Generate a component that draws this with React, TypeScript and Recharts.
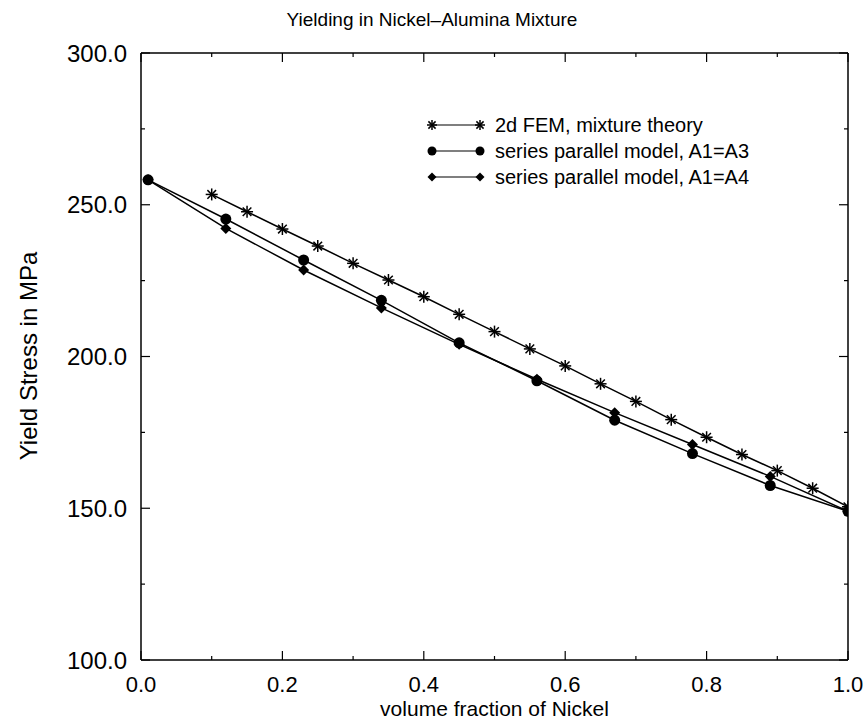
import React from "react";
import { LineChart, Line, XAxis, YAxis } from "recharts";

// FEM / mixture theory (stars)
const femX = [0.1, 0.15, 0.2, 0.25, 0.3, 0.35, 0.4, 0.45, 0.5, 0.55, 0.6, 0.65, 0.7, 0.75, 0.8, 0.85, 0.9, 0.95, 1.0];
const femY = [253.4, 247.7, 242.0, 236.4, 230.7, 225.2, 219.7, 213.9, 208.2, 202.5, 196.9, 191.0, 185.2, 179.2, 173.4, 167.7, 162.4, 156.6, 150.5];

// series parallel model points
const spX = [0.01, 0.12, 0.23, 0.34, 0.45, 0.56, 0.67, 0.78, 0.89, 1.0];
const spA3 = [258.2, 245.3, 231.8, 218.5, 204.5, 192.0, 179.0, 168.0, 157.5, 149.0];
const spA4 = [258.2, 242.2, 228.5, 216.0, 204.0, 192.5, 181.5, 171.0, 160.5, 149.0];

const xTicks = [0, 0.1, 0.2, 0.3, 0.4, 0.5, 0.6, 0.7, 0.8, 0.9, 1.0];
const yTicks = [100, 125, 150, 175, 200, 225, 250, 275, 300];

const seriesNames = ["2d FEM, mixture theory", "series parallel model, A1=A3", "series parallel model, A1=A4"];

const femData = femX.map((x, i) => ({ x, y: femY[i] }));
const a3Data = spX.map((x, i) => ({ x, y: spA3[i] }));
const a4Data = spX.map((x, i) => ({ x, y: spA4[i] }));

const FONT = "'Liberation Sans', Arial, Helvetica, sans-serif";
const W = 866;
const H = 719;
// axes are 1px thick, so plot box is 141..848 x 53..660
const margin = { top: 52, right: 17, bottom: 58, left: 140 };

const Star = ({ cx, cy, r = 6 }: any) => {
  const d = r * 0.72;
  return (
    <g stroke="#000" strokeWidth={1.5}>
      <line x1={cx - r} y1={cy} x2={cx + r} y2={cy} />
      <line x1={cx} y1={cy - r} x2={cx} y2={cy + r} />
      <line x1={cx - d} y1={cy - d} x2={cx + d} y2={cy + d} />
      <line x1={cx - d} y1={cy + d} x2={cx + d} y2={cy - d} />
    </g>
  );
};
const Dot = ({ cx, cy, r = 5.5 }: any) => <circle cx={cx} cy={cy} r={r} fill="#000" />;
const Diamond = ({ cx, cy, r = 5.5 }: any) => (
  <path d={`M${cx},${cy - r}L${cx + r},${cy}L${cx},${cy + r}L${cx - r},${cy}Z`} fill="#000" />
);

const isMajorX = (v: number) => Math.round(v * 10) % 2 === 0;
const isMajorY = (v: number) => Math.round(v) % 50 === 0;

const BottomTick = ({ x, y, payload }: any) => {
  const major = isMajorX(payload.value);
  return (
    <g>
      <line x1={x} x2={x} y1={y} y2={y - (major ? 9 : 4)} stroke="#000" strokeWidth={1.2} />
      {major && (
        <text x={x} y={y + 24} textAnchor="middle" dominantBaseline="central" fontSize={22} fontFamily={FONT} fill="#000">
          {payload.value.toFixed(1)}
        </text>
      )}
    </g>
  );
};
const TopTick = ({ x, y, payload }: any) => (
  <line x1={x} x2={x} y1={y} y2={y + (isMajorX(payload.value) ? 9 : 4)} stroke="#000" strokeWidth={1.2} />
);
const LeftTick = ({ x, y, payload }: any) => {
  const major = isMajorY(payload.value);
  return (
    <g>
      <line x1={x} x2={x + (major ? 9 : 4)} y1={y} y2={y} stroke="#000" strokeWidth={1.2} />
      {major && (
        <text x={x - 14} y={y} textAnchor="end" dominantBaseline="central" fontSize={24} fontFamily={FONT} fill="#000">
          {payload.value.toFixed(1)}
        </text>
      )}
    </g>
  );
};
const RightTick = ({ x, y, payload }: any) => (
  <line x1={x} x2={x - (isMajorY(payload.value) ? 9 : 4)} y1={y} y2={y} stroke="#000" strokeWidth={1.2} />
);

const LegendBox = () => {
  const marks = [Star, Dot, Diamond];
  return (
    <svg width={360} height={80}>
      {seriesNames.map((name, i) => {
        const M = marks[i];
        const cy = 13 + i * 26;
        return (
          <g key={name}>
            <line x1={7} x2={55} y1={cy} y2={cy} stroke="#000" strokeWidth={1.2} />
            <M cx={7} cy={cy} r={i === 0 ? 5 : 4.5} />
            <M cx={55} cy={cy} r={i === 0 ? 5 : 4.5} />
            <text x={70} y={cy} dominantBaseline="central" fontSize={20} fontFamily={FONT} fill="#000">
              {name}
            </text>
          </g>
        );
      })}
    </svg>
  );
};

const axisLine = { stroke: "#000", strokeWidth: 1.5 };

export default function App() {
  return (
    <div style={{ position: "absolute", left: 0, top: 0, width: W, height: H, background: "#fff", fontFamily: FONT }}>
      <LineChart width={W} height={H} margin={margin}>
        <XAxis
          xAxisId="bottom"
          dataKey="x"
          type="number"
          domain={[0, 1]}
          ticks={xTicks}
          interval={0}
          height={1}
          tickSize={0}
          tickMargin={0}
          tickLine={false}
          axisLine={axisLine}
          tick={<BottomTick />}
          allowDataOverflow
        />
        <XAxis
          xAxisId="top"
          orientation="top"
          dataKey="x"
          type="number"
          domain={[0, 1]}
          ticks={xTicks}
          interval={0}
          height={1}
          tickSize={0}
          tickMargin={0}
          tickLine={false}
          axisLine={axisLine}
          tick={<TopTick />}
          allowDataOverflow
        />
        <YAxis
          yAxisId="left"
          type="number"
          domain={[100, 300]}
          ticks={yTicks}
          interval={0}
          width={1}
          tickSize={0}
          tickMargin={0}
          tickLine={false}
          axisLine={axisLine}
          tick={<LeftTick />}
          allowDataOverflow
        />
        <YAxis
          yAxisId="right"
          orientation="right"
          type="number"
          domain={[100, 300]}
          ticks={yTicks}
          interval={0}
          width={1}
          tickSize={0}
          tickMargin={0}
          tickLine={false}
          axisLine={axisLine}
          tick={<RightTick />}
          allowDataOverflow
        />
        <Line
          xAxisId="bottom"
          yAxisId="left"
          data={femData}
          dataKey="y"
          name={seriesNames[0]}
          stroke="#000"
          strokeWidth={1.5}
          dot={(p: any) => <Star key={`s${p.index}`} cx={p.cx} cy={p.cy} />}
          isAnimationActive={false}
        />
        <Line
          xAxisId="bottom"
          yAxisId="left"
          data={a3Data}
          dataKey="y"
          name={seriesNames[1]}
          stroke="#000"
          strokeWidth={1.5}
          dot={(p: any) => <Dot key={`c${p.index}`} cx={p.cx} cy={p.cy} />}
          isAnimationActive={false}
        />
        <Line
          xAxisId="top"
          yAxisId="right"
          data={a4Data}
          dataKey="y"
          name={seriesNames[2]}
          stroke="#000"
          strokeWidth={1.5}
          dot={(p: any) => <Diamond key={`d${p.index}`} cx={p.cx} cy={p.cy} />}
          isAnimationActive={false}
        />
      </LineChart>
      <div style={{ position: "absolute", left: 425, top: 112 }}>
        <LegendBox />
      </div>
      <div style={{ position: "absolute", left: 0, width: W - 2, top: 8, textAlign: "center", fontSize: 19, lineHeight: "24px" }}>
        Yielding in Nickel–Alumina Mixture
      </div>
      <div style={{ position: "absolute", left: 141, width: 707, top: 698, textAlign: "center", fontSize: 21, lineHeight: "21px" }}>
        volume fraction of Nickel
      </div>
      <div
        style={{
          position: "absolute",
          left: 29,
          top: 356,
          fontSize: 24,
          lineHeight: "28px",
          whiteSpace: "nowrap",
          transform: "translate(-50%, -50%) rotate(-90deg)",
        }}
      >
        Yield Stress in MPa
      </div>
    </div>
  );
}
